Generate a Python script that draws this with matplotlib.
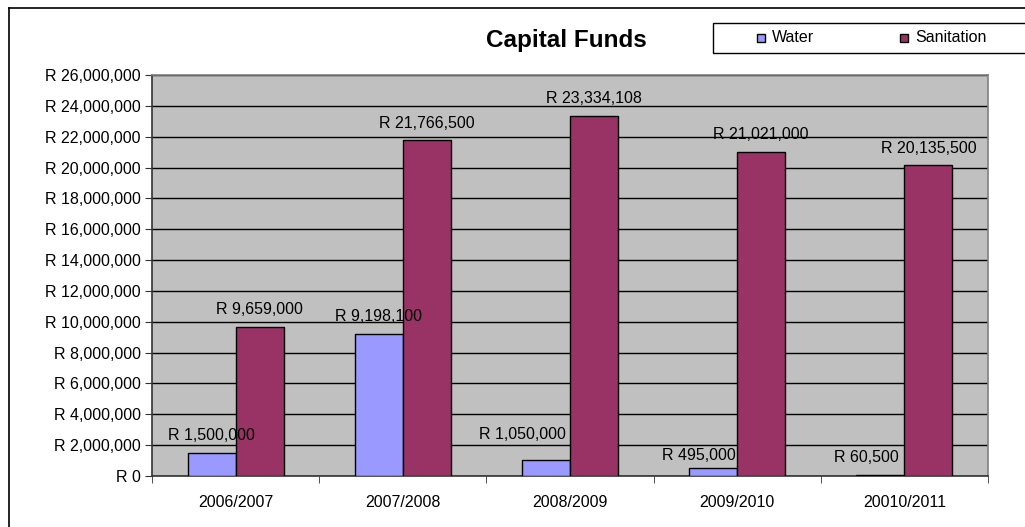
import numpy as np
import matplotlib.pyplot as plt
import matplotlib.patches as mpatches
from matplotlib.ticker import FuncFormatter, MultipleLocator

plt.rcParams['font.family'] = ['Liberation Sans', 'DejaVu Sans']

years = ['2006/2007', '2007/2008', '2008/2009', '2009/2010', '20010/2011']
water = [1500000, 9198100, 1050000, 495000, 60500]
sanitation = [9659000, 21766500, 23334108, 21021000, 20135500]

# small nudges (points) for the water value labels, as in the original
water_dx = [0, 0, -17, -10, -10]
water_dy = [0, 0, 6, -3, 0]

water_col = '#9999FF'
san_col = '#993366'

fig = plt.figure(figsize=(10.25, 5.27), dpi=100)
ax = fig.add_axes([152 / 1025, 1 - 476 / 527, 836 / 1025, 401 / 527])
ax.set_facecolor('#C0C0C0')

x = np.arange(len(years))
w = 0.287
ax.bar(x - w / 2, water, w, color=water_col, edgecolor='black', linewidth=1, zorder=3)
ax.bar(x + w / 2, sanitation, w, color=san_col, edgecolor='black', linewidth=1, zorder=3)

fs = 11.5
for i in range(len(years)):
    ax.annotate('R {:,}'.format(water[i]), (x[i] - w / 2, water[i]),
                xytext=(water_dx[i], 7 + water_dy[i]), textcoords='offset points',
                ha='center', va='bottom', fontsize=fs, zorder=5)
    ax.annotate('R {:,}'.format(sanitation[i]), (x[i] + w / 2, sanitation[i]),
                xytext=(0, 7), textcoords='offset points',
                ha='center', va='bottom', fontsize=fs, zorder=5)

ax.set_xlim(-0.5, len(years) - 0.5)
ax.set_ylim(0, 26000000)
ax.yaxis.set_major_locator(MultipleLocator(2000000))
ax.yaxis.set_major_formatter(FuncFormatter(lambda v, p: 'R {:,}'.format(int(v))))
ax.grid(axis='y', color='black', linewidth=1, zorder=1)
ax.set_axisbelow(True)

ax.set_xticks(x)
ax.set_xticklabels(years)
ax.set_xticks(np.arange(-0.5, len(years)), minor=True)
ax.tick_params(axis='x', which='major', length=0, pad=14, labelsize=fs)
ax.tick_params(axis='x', which='minor', length=5, direction='out', color='#333333')
ax.tick_params(axis='y', length=5, direction='out', labelsize=fs, pad=3, color='#333333')

for s in ['left', 'bottom']:
    ax.spines[s].set_color('#333333')
    ax.spines[s].set_linewidth(1.2)
for s in ['top', 'right']:
    ax.spines[s].set_color('#808080')
    ax.spines[s].set_linewidth(1.2)

fig.text(566 / 1025, 1 - 40 / 527, 'Capital Funds', ha='center', va='center',
         fontsize=17.5, fontweight='bold')

# legend box (runs off the right edge like the source)
fig.add_artist(mpatches.Rectangle((713 / 1025, 1 - 53 / 527), 330 / 1025, 30 / 527,
                                  transform=fig.transFigure, facecolor='white',
                                  edgecolor='black', linewidth=1))
for lx, lab, col in [(757, 'Water', water_col), (900, 'Sanitation', san_col)]:
    fig.add_artist(mpatches.Rectangle((lx / 1025, 1 - 42 / 527), 8 / 1025, 8 / 527,
                                      transform=fig.transFigure, facecolor=col,
                                      edgecolor='black', linewidth=1))
    fig.text((lx + 15) / 1025, 1 - 38 / 527, lab, ha='left', va='center', fontsize=fs)

# outer chart border (left and top)
fig.add_artist(plt.Line2D([9 / 1025, 9 / 1025], [0, 1 - 8 / 527], transform=fig.transFigure,
                          color='black', linewidth=1.2))
fig.add_artist(plt.Line2D([9 / 1025, 1], [1 - 8 / 527, 1 - 8 / 527], transform=fig.transFigure,
                          color='black', linewidth=1.2))

fig.savefig('out.png', dpi=100)
